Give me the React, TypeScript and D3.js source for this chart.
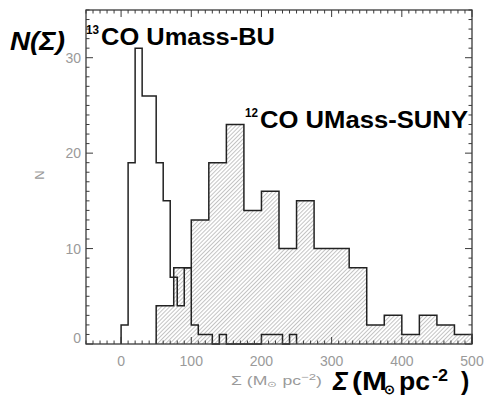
import React from "react";
import * as d3 from "d3";

// 13CO Umass-BU histogram: bin width 10, starting at 0
const co13Start = 0;
const co13Width = 10;
const co13Counts = [2, 19, 31, 26, 26, 19, 15, 7, 4, 8, 2, 1, 1, 0, 1, 0, 0, 0, 0, 0, 1, 1, 1, 0, 1];

// 12CO UMass-SUNY histogram: bin width 25, starting at 50
const co12Start = 50;
const co12Width = 25;
const co12Counts = [4, 8, 13, 19, 23, 14, 16, 10, 15, 10, 10, 8, 2, 3, 1, 3, 2, 1];

const xTickLabels = [0, 100, 200, 300, 400, 500];
const yTickLabels = [0, 10, 20, 30];

const W = 484;
const H = 398;
const GRAY = "#9a9a9a";
const INK = "#222";

export default function App() {
  const x = d3.scaleLinear().domain([-50, 500]).range([86, 472]);
  const y = d3.scaleLinear().domain([0, 35]).range([344, 10]);

  const toPts = (start: number, width: number, counts: number[]) => {
    const pts: [number, number][] = [[start, 0]];
    counts.forEach((c, i) => pts.push([start + i * width, c]));
    const end = start + counts.length * width;
    pts.push([end, counts[counts.length - 1]]);
    pts.push([end, 0]);
    return pts;
  };

  const line = d3
    .line<[number, number]>()
    .x((d) => x(d[0]))
    .y((d) => y(d[1]))
    .curve(d3.curveStepAfter);

  const area = d3
    .area<[number, number]>()
    .x((d) => x(d[0]))
    .y0(y(0))
    .y1((d) => y(d[1]))
    .curve(d3.curveStepAfter);

  const p12 = toPts(co12Start, co12Width, co12Counts);
  const p13 = toPts(co13Start, co13Width, co13Counts);

  const [x0, x1] = x.range();
  const [yb, yt] = y.range();

  const xMinor = d3.range(-50, 501, 10);
  const yMinor = d3.range(0, 36, 1);

  return (
    <svg
      width={W}
      height={H}
      style={{ position: "absolute", left: 0, top: 0, background: "#fff" }}
      fontFamily="'Liberation Sans', Arial, sans-serif"
    >
      <defs>
        <pattern
          id="hatch"
          patternUnits="userSpaceOnUse"
          width={2.9}
          height={2.9}
          patternTransform="rotate(45)"
        >
          <line x1={0.5} y1={0} x2={0.5} y2={2.9} stroke="#b0b0b0" strokeWidth={0.75} />
        </pattern>
      </defs>

      {/* hatched 12CO histogram */}
      <path d={area(p12.slice(0, -1)) || ""} fill="url(#hatch)" stroke="none" />
      <path d={line(p12) || ""} fill="none" stroke={INK} strokeWidth={1.5} />
      {/* 13CO histogram */}
      <path d={line(p13) || ""} fill="none" stroke={INK} strokeWidth={1.5} />

      {/* frame */}
      <rect x={x0} y={yt} width={x1 - x0} height={yb - yt} fill="none" stroke="#3a3a3a" strokeWidth={1.3} />

      {/* x ticks */}
      {xMinor.map((v) => {
        const major = v % 100 === 0;
        const len = major ? 7 : 3.5;
        return (
          <g key={"xt" + v} stroke="#3a3a3a" strokeWidth={1}>
            <line x1={x(v)} x2={x(v)} y1={yb} y2={yb - len} />
            <line x1={x(v)} x2={x(v)} y1={yt} y2={yt + len} />
          </g>
        );
      })}
      {/* y ticks */}
      {yMinor.map((v) => {
        const major = v % 10 === 0;
        const len = major ? 7 : 3.5;
        return (
          <g key={"yt" + v} stroke="#3a3a3a" strokeWidth={1}>
            <line x1={x0} x2={x0 + len} y1={y(v)} y2={y(v)} />
            <line x1={x1} x2={x1 - len} y1={y(v)} y2={y(v)} />
          </g>
        );
      })}

      {/* tick labels */}
      {xTickLabels.map((v) => (
        <text key={"xl" + v} x={x(v)} y={366} textAnchor="middle" fontSize={14} fill={GRAY}>
          {v}
        </text>
      ))}
      {yTickLabels.map((v) => (
        <text
          key={"yl" + v}
          x={81}
          y={v === 0 ? 343 : y(v) + 5}
          textAnchor="end"
          fontSize={14}
          fill={GRAY}
        >
          {v}
        </text>
      ))}

      {/* small gray axis titles */}
      <text x={44} y={175} fontSize={13} fill={GRAY} textAnchor="middle" transform="rotate(-90 44 175)">
        N
      </text>
      <text x={231} y={385} fontSize={12} fill={GRAY} textLength={91} lengthAdjust="spacingAndGlyphs">
        Σ  (M<tspan fontSize={8} dy={2}>⊙</tspan>
        <tspan dy={-2}> pc</tspan>
        <tspan fontSize={9} dy={-5}>−2</tspan>
        <tspan dy={5}>)</tspan>
      </text>

      {/* big bold annotations */}
      <text x={10} y={50} fontSize={25} fontWeight="bold" fontStyle="italic" fill="#000" textLength={55} lengthAdjust="spacingAndGlyphs">
        N(Σ)
      </text>

      <text x={86} y={34} fontSize={13} fontWeight="bold" fill="#000" textLength={13} lengthAdjust="spacingAndGlyphs">13</text>
      <text x={101} y={45} fontSize={23} fontWeight="bold" fill="#000" textLength={174} lengthAdjust="spacingAndGlyphs">
        CO Umass-BU
      </text>

      <text x={245} y={117} fontSize={13} fontWeight="bold" fill="#000" textLength={13} lengthAdjust="spacingAndGlyphs">12</text>
      <text x={260} y={128} fontSize={23} fontWeight="bold" fill="#000" textLength={208} lengthAdjust="spacingAndGlyphs">
        CO UMass-SUNY
      </text>

      <text x={333} y={390} fontSize={25} fontWeight="bold" fontStyle="italic" fill="#000">Σ</text>
      <text x={352} y={390} fontSize={25} fontWeight="bold" fill="#000" textLength={35} lengthAdjust="spacingAndGlyphs">(M</text>
      <text x={384} y={394} fontSize={13} fontWeight="bold" fill="#000">⊙</text>
      <text x={399} y={390} fontSize={25} fontWeight="bold" fill="#000" textLength={31} lengthAdjust="spacingAndGlyphs">pc</text>
      <text x={432} y={381} fontSize={16} fontWeight="bold" fill="#000" textLength={16} lengthAdjust="spacingAndGlyphs">-2</text>
      <text x={461} y={390} fontSize={25} fontWeight="bold" fill="#000">)</text>
    </svg>
  );
}
